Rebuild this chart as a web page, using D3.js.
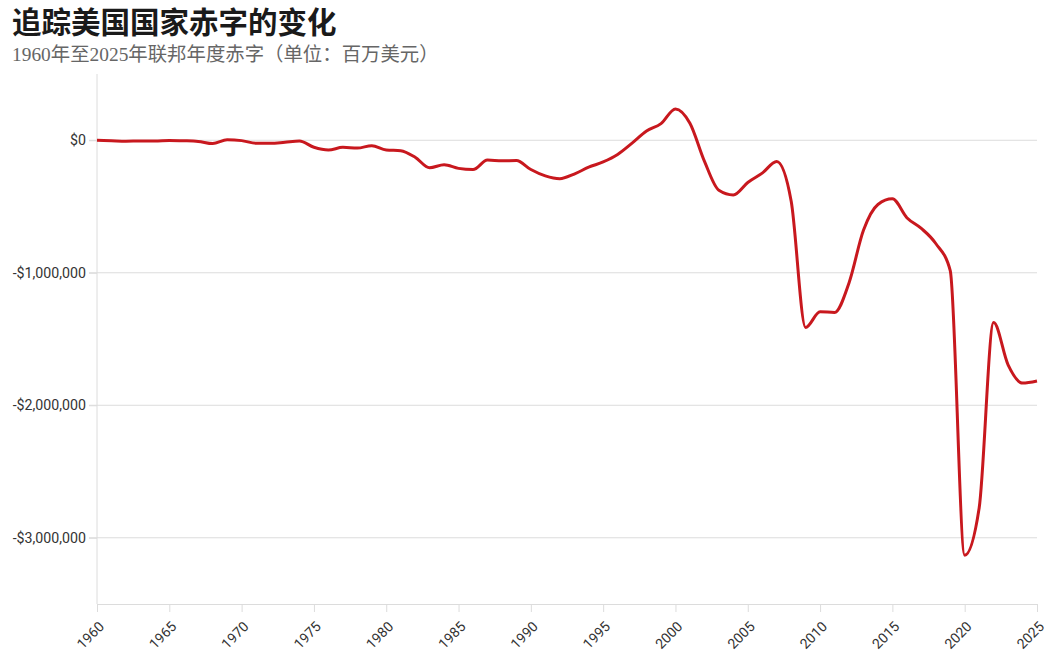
<!DOCTYPE html>
<html><head><meta charset="utf-8">
<script src="https://cdn.jsdelivr.net/npm/d3@7"></script>
<style>
body{margin:0;background:#fff;}
svg{display:block;}
</style></head>
<body>
<svg id="c" width="1058" height="663"></svg>
<script>
const titleText = "追踪美国国家赤字的变化";
const subtitleText = "1960年至2025年联邦年度赤字（单位：百万美元）";
const years = d3.range(1960, 2026);
const deficits = [301,-3335,-7146,-4756,-5915,-1411,-3698,-8643,-25161,3242,-2842,-23033,-23373,-14908,-6135,-53242,-73732,-53659,-59185,-40726,-73830,-78968,-127977,-207802,-185367,-212308,-221227,-149730,-155178,-152639,-221036,-269238,-290321,-255051,-203186,-163952,-107431,-21884,69270,125610,236241,128236,-157758,-377585,-412727,-318346,-248181,-160701,-458553,-1412688,-1294373,-1299593,-1076573,-679775,-484793,-441960,-584651,-665446,-779137,-983592,-3131917,-2775306,-1375887,-1695000,-1832800,-1817000];
const yTicks = [0,-1000000,-2000000,-3000000];
const xTicks = d3.range(1960, 2026, 5);

const data = years.map((y,i)=>({year:y, value:deficits[i]}));
const svg = d3.select("#c");
const m = {left:97, right:1037, top:74, bottom:604};
const x = d3.scaleLinear().domain([1960,2025]).range([m.left,m.right]);
const y = d3.scaleLinear().domain([-3500000,500000]).range([m.bottom,m.top]);

svg.append("text").attr("x",12).attr("y",33).text(titleText)
  .attr("font-family","'Noto Sans CJK SC'").attr("font-weight",700).attr("font-size",29.5).attr("fill","#1a1a1a");
svg.append("text").attr("x",12).attr("y",61).text(subtitleText)
  .attr("font-family","'Liberation Serif','Noto Sans CJK SC'").attr("font-size",19.4).attr("fill","#666");

// grid
svg.append("g").selectAll("line").data(yTicks).join("line")
  .attr("x1",m.left-8).attr("x2",m.right).attr("y1",d=>y(d)).attr("y2",d=>y(d))
  .attr("stroke","#dcdcdc").attr("stroke-width",1);

const fmt = d => d===0 ? "$0" : "-$" + d3.format(",")(Math.abs(d));
const yAxis = svg.append("g").attr("transform",`translate(${m.left},0)`)
  .call(d3.axisLeft(y).tickValues(yTicks).tickFormat(fmt).tickSize(8).tickPadding(3));
yAxis.select(".domain").attr("stroke","#dcdcdc").attr("d",`M0,${m.top}V${m.bottom}`);
yAxis.selectAll(".tick line").attr("stroke","#dcdcdc");
yAxis.selectAll("text").attr("font-family","Roboto").attr("font-size",14.2).attr("fill","#333");

const xAxis = svg.append("g").attr("transform",`translate(0,${m.bottom})`)
  .call(d3.axisBottom(x).tickValues(xTicks).tickFormat(d3.format("d")).tickSize(8).tickSizeOuter(0));
xAxis.select(".domain").attr("stroke","#dcdcdc");
xAxis.selectAll(".tick line").attr("stroke","#dcdcdc");
xAxis.selectAll("text").attr("font-family","Roboto").attr("font-size",14).attr("fill","#333")
  .attr("text-anchor","end").attr("y",0).attr("dy","0.35em").attr("transform","translate(4,20) rotate(-45)");

const line = d3.line().x(d=>x(d.year)).y(d=>y(d.value)).curve(d3.curveMonotoneX);
svg.append("path").datum(data).attr("d",line).attr("fill","none")
  .attr("stroke","#c8181e").attr("stroke-width",3).attr("stroke-linejoin","round");
</script>
</body></html>
